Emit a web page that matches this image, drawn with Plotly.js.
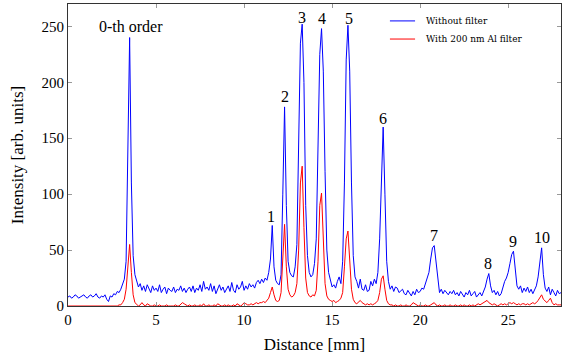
<!DOCTYPE html>
<html><head><meta charset="utf-8">
<script src="https://cdn.plot.ly/plotly-3.0.1.min.js"></script>
<style>html,body{margin:0;padding:0;background:#fff}</style>
</head><body><div id="chart" style="width:565px;height:362px"></div>
<script>
// Sampling grid of the measured profiles: distance in mm
const distanceStart = 0;
const distanceStep = 0.1;

// Intensity [arb. units], one value per 0.1 mm from 0 to 28 mm
const withoutFilter = [
  8, 9, 7, 8, 10, 9, 7, 8, 9, 10,
  8, 7, 9, 10, 8, 9, 11, 8, 7, 9,
  8, 10, 6, 4, 9, 8, 11, 10, 13, 12,
  15, 19, 24, 40, 140, 240, 110, 45, 28, 22,
  17, 20, 14, 18, 13, 19, 15, 12, 18, 14,
  16, 13, 19, 12, 15, 17, 11, 16, 14, 13,
  17, 12, 15, 14, 18, 13, 16, 12, 15, 17,
  13, 18, 12, 16, 14, 19, 13, 22, 15, 17,
  14, 20, 13, 18, 11, 16, 19, 14, 17, 12,
  15, 18, 13, 21, 14, 12, 19, 15, 17, 22,
  14, 18, 15, 20, 17, 19, 16, 21, 23, 20,
  24, 21, 25, 23, 30, 42, 72, 35, 23, 20,
  19, 28, 100, 178, 90, 40, 30, 27, 26, 35,
  55, 130, 235, 252, 200, 90, 45, 30, 26, 28,
  38, 60, 130, 225, 248, 210, 120, 50, 30, 22,
  17, 19, 16, 22, 26, 20, 40, 110, 220, 251,
  210, 110, 45, 26, 22, 16, 24, 15, 14, 19,
  13, 14, 22, 18, 24, 20, 30, 60, 120, 160,
  100, 40, 22, 15, 18, 13, 17, 16, 12, 14,
  15, 11, 10, 14, 12, 9, 13, 10, 15, 12,
  13, 16, 15, 20, 25, 30, 42, 52, 54, 40,
  22, 12, 15, 11, 14, 12, 10, 13, 11, 14,
  10, 12, 9, 13, 11, 8, 12, 10, 14, 9,
  11, 13, 8, 10, 12, 9, 13, 17, 24, 29,
  18, 12, 14, 10, 13, 9, 11, 18, 22, 25,
  30, 38, 46, 49, 35, 18, 15, 18, 12, 16,
  13, 17, 12, 15, 11, 14, 18, 26, 40, 52,
  28, 16, 13, 17, 10, 15, 12, 9, 14, 11,
  12
];

const withAlFilter = [
  0, 0, 0, 0, 0, 0, 0, 0, 0, 0,
  0, 0, 0, 0, 0, 0, 0, 0, 0, 0,
  0, 0, 0, 0, 0, 0, 0, 0, 0, 1,
  1, 3, 6, 15, 40, 55, 30, 10, 3, 1,
  0, 1, 3, 1, 0, 2, 1, 0, 0, 1,
  0, 0, 1, 0, 0, 0, 1, 0, 0, 0,
  0, 1, 0, 0, 2, 3, 2, 1, 0, 1,
  0, 0, 1, 0, 0, 1, 0, 2, 0, 0,
  1, 0, 0, 1, 0, 2, 1, 0, 0, 1,
  0, 1, 0, 0, 1, 0, 2, 1, 0, 1,
  3, 2, 1, 1, 2, 1, 2, 3, 2, 3,
  3, 4, 3, 5, 7, 12, 17, 10, 5, 4,
  5, 12, 40, 73, 35, 15, 10, 8, 9, 12,
  20, 50, 110, 125, 70, 25, 12, 9, 8, 10,
  9, 14, 40, 90, 101, 55, 20, 9, 6, 5,
  4, 5, 3, 4, 5, 7, 12, 35, 60, 67,
  40, 15, 6, 3, 2, 4, 5, 3, 2, 1,
  2, 1, 2, 1, 2, 3, 5, 12, 24, 27,
  15, 5, 2, 1, 1, 0, 1, 0, 0, 1,
  0, 0, 1, 0, 0, 1, 3, 2, 1, 0,
  1, 0, 0, 1, 0, 0, 1, 2, 3, 1,
  0, 1, 0, 0, 1, 0, 0, 1, 0, 0,
  1, 0, 0, 1, 0, 1, 0, 0, 1, 0,
  1, 0, 1, 2, 1, 2, 3, 4, 5, 3,
  2, 1, 2, 1, 0, 1, 2, 1, 2, 1,
  2, 3, 2, 3, 2, 1, 2, 1, 2, 2,
  1, 2, 1, 2, 3, 2, 3, 5, 8, 10,
  6, 4, 3, 5, 7, 3, 1, 2, 1, 1,
  1
];

// Peak labels (diffraction orders) and where they sit in data units
const orderLabels = ["0-th order", "1", "2", "3", "4", "5", "6", "7", "8", "9", "10"];
const orderLabelX = [3.55, 11.55, 12.35, 13.3, 14.4, 15.95, 17.9, 20.8, 23.85, 25.3, 26.9];
const orderLabelY = [250, 80, 187, 258, 257, 257, 168, 63, 38, 58, 61];

const seriesNames = ["Without filter", "With 200 nm Al filter"];
const seriesColors = ["#0000ff", "#ff0000"];
const xTicks = [0, 5, 10, 15, 20, 25];
const yTicks = [0, 50, 100, 150, 200, 250];

const distance = withoutFilter.map((_, i) => +(distanceStart + i * distanceStep).toFixed(1));

const serif = "Liberation Serif, Times New Roman, serif";
const legendSerif = "DejaVu Serif, serif";

const traces = [
  {x: distance, y: withoutFilter, type: "scatter", mode: "lines", name: seriesNames[0],
   line: {color: seriesColors[0], width: 1}},
  {x: distance, y: withAlFilter, type: "scatter", mode: "lines", name: seriesNames[1],
   line: {color: seriesColors[1], width: 1}}
];

const annotations = orderLabels.map((t, i) => ({
  x: orderLabelX[i], y: orderLabelY[i], text: t, showarrow: false,
  xanchor: "center", yanchor: "middle",
  font: {family: serif, size: 16, color: "#000"}
}));

// Compact pgfplots-style legend (line sample + label), placed in paper coordinates
const legendLineX0 = 0.653, legendLineX1 = 0.704, legendTextX = 0.722;
const legendRowY = [0.944, 0.884];
const legendShapes = [];
seriesNames.forEach((name, i) => {
  legendShapes.push({type: "line", xref: "paper", yref: "paper",
    x0: legendLineX0, x1: legendLineX1, y0: legendRowY[i], y1: legendRowY[i],
    line: {color: seriesColors[i], width: 1}});
  annotations.push({xref: "paper", yref: "paper", x: legendTextX, y: legendRowY[i],
    text: name, showarrow: false, xanchor: "left", yanchor: "middle",
    font: {family: legendSerif, size: 9, color: "#000"}});
});

const layout = {
  width: 565, height: 362,
  margin: {l: 68, r: 4, t: 4, b: 56},
  paper_bgcolor: "#fff", plot_bgcolor: "#fff",
  showlegend: false,
  xaxis: {range: [0, 28], tickvals: xTicks, ticktext: xTicks.map(String),
    ticks: "inside", ticklen: 4, tickcolor: "#999", mirror: "allticks",
    showline: true, linecolor: "#333", linewidth: 1, showgrid: false, zeroline: false,
    tickfont: {family: serif, size: 15, color: "#000"},
    title: {text: "Distance [mm]", font: {family: serif, size: 17, color: "#000"}, standoff: 11}},
  yaxis: {range: [0, 270], tickvals: yTicks, ticktext: yTicks.map(String),
    ticks: "inside", ticklen: 4, tickcolor: "#999", mirror: "allticks",
    showline: true, linecolor: "#333", linewidth: 1, showgrid: false, zeroline: false,
    tickfont: {family: serif, size: 15, color: "#000"},
    title: {text: "Intensity [arb. units]", font: {family: serif, size: 17, color: "#000"}, standoff: 13}},
  shapes: legendShapes,
  annotations: annotations
};

Plotly.newPlot("chart", traces, layout, {displayModeBar: false, staticPlot: true});
</script>
</body></html>
